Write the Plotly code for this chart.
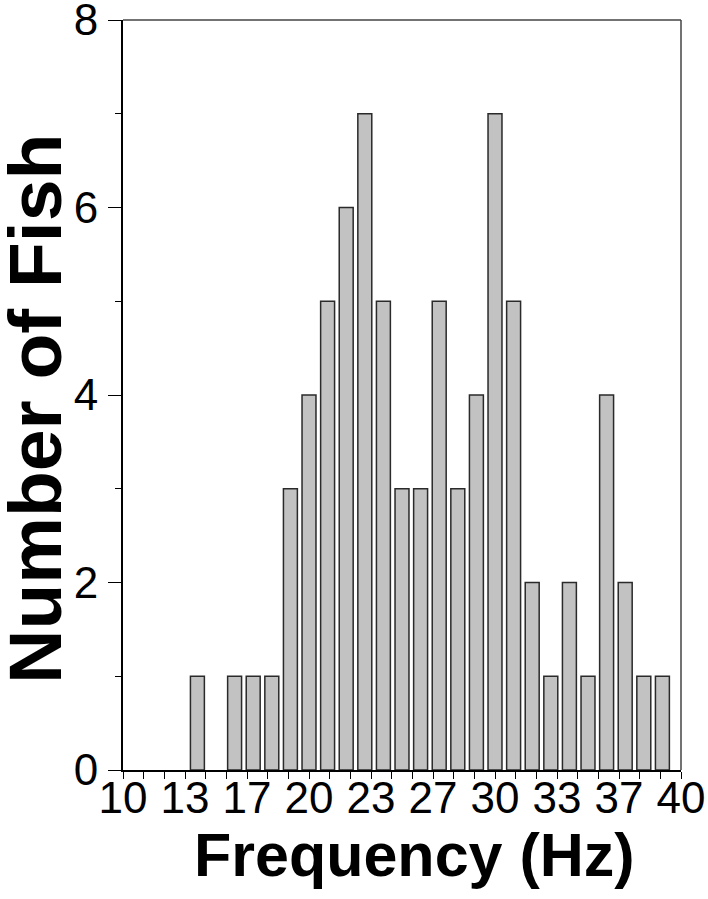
import plotly.graph_objects as go

freq_hz = [14, 16, 17, 18, 19, 20, 21, 22, 23, 24, 25, 26, 27, 28, 29, 30, 31, 32, 33, 34, 35, 36, 37, 38, 39]
num_fish = [1, 1, 1, 1, 3, 4, 5, 6, 7, 5, 3, 3, 5, 3, 4, 7, 5, 2, 1, 2, 1, 4, 2, 1, 1]

x_tick_vals = [10 + k * 10 / 3 for k in range(10)]
x_tick_text = ["10", "13", "17", "20", "23", "27", "30", "33", "37", "40"]
y_tick_vals = [0, 2, 4, 6, 8]

font_family = "Liberation Sans, Arial, sans-serif"

fig = go.Figure()
fig.add_trace(go.Bar(
    x=freq_hz, y=num_fish, width=0.75,
    marker=dict(color="#c2c2c2", line=dict(color="#2a2a2a", width=1.5)),
))

fig.update_layout(
    template="none",
    autosize=False,
    width=708, height=899,
    margin=dict(l=123, r=27, t=20, b=129, autoexpand=False),
    paper_bgcolor="white", plot_bgcolor="white",
    showlegend=False,
    font=dict(family=font_family, color="black"),
    xaxis=dict(
        range=[10, 40], showgrid=False, zeroline=False, automargin=False,
        showline=True, linecolor="black", linewidth=1.5,
        tickmode="array", tickvals=x_tick_vals, ticktext=x_tick_text,
        ticks="outside", ticklen=7, tickwidth=1.2, tickcolor="black",
        ticklabelstandoff=-19, ticklabeloverflow="allow",
        tickfont=dict(size=44, family=font_family, color="black"),
        minor=dict(tick0=10, dtick=10 / 9, ticks="outside", ticklen=7,
                   tickwidth=1.2, tickcolor="black", showgrid=False),
    ),
    yaxis=dict(
        range=[0, 8], showgrid=False, zeroline=False, automargin=False,
        showline=True, linecolor="black", linewidth=2,
        tickmode="array", tickvals=y_tick_vals,
        ticks="outside", ticklen=13, tickwidth=1.2, tickcolor="black",
        ticklabelstandoff=1, ticklabeloverflow="allow",
        tickfont=dict(size=44, family=font_family, color="black"),
        minor=dict(tick0=0, dtick=1, ticks="outside", ticklen=6,
                   tickwidth=1.2, tickcolor="black", showgrid=False),
    ),
    annotations=[
        dict(text="<b>Frequency (Hz)</b>", xref="paper", yref="paper",
             x=0.523, y=-0.113, xanchor="center", yanchor="middle",
             showarrow=False, font=dict(size=61, family=font_family, color="black")),
        dict(text="<b>Number of Fish</b>", xref="paper", yref="paper",
             x=-0.159, y=0.482, xanchor="center", yanchor="middle", textangle=-90,
             showarrow=False, font=dict(size=75, family=font_family, color="black")),
    ],
    shapes=[
        dict(type="line", xref="x domain", yref="y domain", x0=0, x1=1, y0=1, y1=1,
             line=dict(color="#444444", width=1.5)),
        dict(type="line", xref="x domain", yref="y domain", x0=1, x1=1, y0=0, y1=1,
             line=dict(color="#444444", width=1.5)),
    ],
)

fig.write_html("out.html", config={"displayModeBar": False},
               post_script="document.body.style.margin='0';")
